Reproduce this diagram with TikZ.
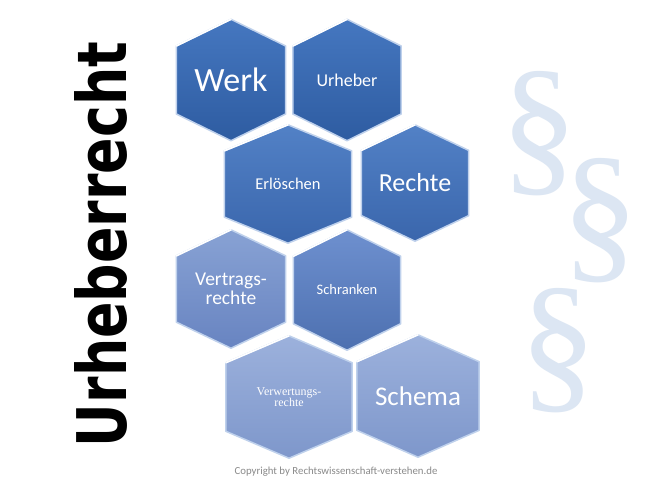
\documentclass[tikz,border=0pt]{standalone}
\usepackage{fontspec}
\setmainfont{Carlito}
\newfontfamily\titlefont{DejaVu Sans}
\newfontfamily\paraserif{Liberation Serif}
\usetikzlibrary{calc, backgrounds}

\definecolor{rowatop}{HTML}{4577C0}
\definecolor{rowabot}{HTML}{2E5CA1}
\definecolor{rowbtop}{HTML}{5281C6}
\definecolor{rowbbot}{HTML}{3A66AC}
\definecolor{rowctop}{HTML}{88A2D4}
\definecolor{rowcbot}{HTML}{6884C1}
\definecolor{schrtop}{HTML}{6E90CF}
\definecolor{schrbot}{HTML}{4D70B0}
\definecolor{rowdtop}{HTML}{9CB1DC}
\definecolor{rowdbot}{HTML}{7E97CB}
\definecolor{edgeblue}{HTML}{BFD1EC}
\definecolor{parablue}{HTML}{DCE6F3}
\definecolor{copygray}{HTML}{8A8A8A}

\tikzstyle{hexbox} = [
	rectangle,
	inner sep=0pt,
	text centered,
	align=center,
	text=white
]
\tikzstyle{hexedge} = [draw=edgeblue, line width=1.5pt, line join=round]
\tikzstyle{para} = [
	inner sep=0pt,
	text=parablue,
	font=\paraserif\fontsize{155}{155}\selectfont
]
\tikzset{
	hexpath/.style={insert path={
		(#1.north) -- ($(#1.north east)!0.22!(#1.south east)$)
		-- ($(#1.north east)!0.78!(#1.south east)$) -- (#1.south)
		-- ($(#1.north west)!0.78!(#1.south west)$)
		-- ($(#1.north west)!0.22!(#1.south west)$) -- cycle}}
}

\begin{document}
\begin{tikzpicture}[x=1pt, y=-1pt]
	\useasboundingbox (0,0) rectangle (660,495);

	% title and watermarks
	\node (title) [rotate=90, inner sep=0pt] at (101,244.5) {\resizebox{405pt}{52pt}{\titlefont\bfseries Urheberrecht}};
	\node (para1) [para] at (539,134) {§};
	\node (para2) [para] at (600,221) {§};
	\node (para3) [para] at (558,351) {§};

	% hexagons
	\node (werk) [hexbox, minimum width=109pt, minimum height=121pt, font=\fontsize{34}{34}\selectfont] at (231,80) {Werk};
	\node (urheber) [hexbox, minimum width=108pt, minimum height=121pt, font=\fontsize{18}{18}\selectfont] at (347,80) {Urheber};
	\node (erloeschen) [hexbox, minimum width=127pt, minimum height=118pt, font=\fontsize{16.5}{16.5}\selectfont] at (288,184) {Erlöschen};
	\node (rechte) [hexbox, minimum width=107pt, minimum height=116pt, font=\fontsize{26}{26}\selectfont] at (415,183) {Rechte};
	\node (vertrag) [hexbox, minimum width=109pt, minimum height=118pt, font=\fontsize{19.5}{18.5}\selectfont] at (231,289) {Vertrags-\\rechte};
	\node (schranken) [hexbox, minimum width=107pt, minimum height=120pt, font=\fontsize{14.5}{14.5}\selectfont] at (347,290) {Schranken};
	\node (verwertung) [hexbox, minimum width=126pt, minimum height=122pt, font=\paraserif\fontsize{12}{11}\selectfont] at (289,397) {Verwertungs-\\rechte};
	\node (schema) [hexbox, minimum width=122pt, minimum height=122pt, font=\fontsize{27}{27}\selectfont] at (418,396) {Schema};

	\node (copy) [text=copygray, font=\fontsize{10.8}{11}\selectfont] at (336,472) {Copyright by Rechtswissenschaft-verstehen.de};

	\begin{scope}[on background layer]
		\fill[white] (0,0) rectangle (660,495);
		\foreach \n/\ct/\cb in {werk/rowatop/rowabot, urheber/rowatop/rowabot,
			erloeschen/rowbtop/rowbbot, rechte/rowbtop/rowbbot,
			vertrag/rowctop/rowcbot, schranken/schrtop/schrbot,
			verwertung/rowdtop/rowdbot, schema/rowdtop/rowdbot} {
			\shade[top color=\ct, bottom color=\cb, hexedge, hexpath=\n];
			\draw[white, line width=1.6pt, line cap=round]
				($(\n.north west)!0.22!(\n.south west)$) -- (\n.north);
		}
	\end{scope}
\end{tikzpicture}
\end{document}
